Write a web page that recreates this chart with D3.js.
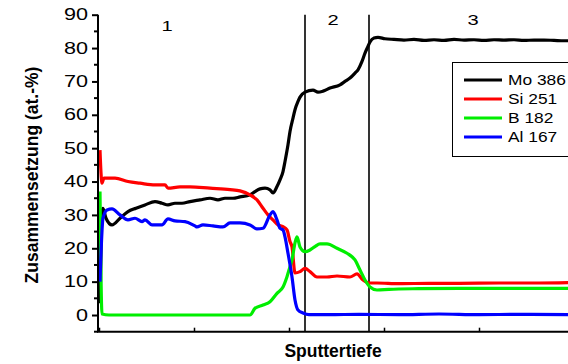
<!DOCTYPE html>
<html>
<head>
<meta charset="utf-8">
<script src="https://cdn.jsdelivr.net/npm/d3@7"></script>
<style>
  html, body { margin: 0; padding: 0; background: #fff; }
  svg { display: block; font-family: "Liberation Sans", Arial, sans-serif; }
</style>
</head>
<body>
<svg id="chart" width="568" height="364"></svg>
<script>
// Depth profile: [sputter depth (arb. units), composition at.-%]
const mo = [[1,3.5],[2,20],[3,31],[4,32],[7,29],[13,27],[21,29],[29,31],[37,32],[46,33],[56,34],[63,33.5],[69,33],[76,33.5],[83,33.5],[91,34],[101,34.5],[111,35],[119,34.5],[126,35],[134,35],[141,35.4],[151,36],[156,37],[161,37.8],[166,38],[171,37.5],[174,36.6],[178,38.5],[181,40.5],[184,43],[186,46],[189,51],[191,55],[194,59],[196,61.5],[199,64],[201,65.3],[206,66.8],[214,67.4],[219,66.8],[224,67.1],[231,68],[241,69],[246,70],[251,71],[256,72.5],[259,73.5],[263,76],[266,78.5],[269,80.5],[271,81.8],[275,83],[279,83.2],[286,82.8],[295,82.6],[305,82.4],[315,82.6],[325,82.3],[335,82.5],[345,82.3],[355,82.6],[365,82.4],[375,82.5],[385,82.3],[395,82.5],[405,82.4],[415,82.5],[425,82.3],[435,82.4],[445,82.4],[455,82.3],[465,82.2],[470,82.2]];
const si = [[1,49.4],[3,39.5],[5,41],[16,41],[29,40],[41,39.5],[56,39],[66,39],[69,38],[81,38.4],[91,38.4],[111,38],[131,37.6],[141,37.2],[151,36],[158,34.5],[164,32],[169,30],[174,28.5],[179,27],[184,26.5],[188,25.5],[191,22],[193,20.4],[196,12.6],[201,13],[206,14],[211,13],[218,11.4],[228,11.4],[238,11.7],[251,11.4],[258,12.3],[264,10.5],[271,9.6],[278,9.6],[300,9.4],[330,9.5],[360,9.5],[400,9.6],[440,9.6],[470,9.7]];
const b = [[1,37],[3,0.3],[10,0],[151,0],[156,2],[164,3],[171,4],[178,6.5],[184,8.4],[188,11.5],[191,14.5],[193,16.5],[196,21.6],[198,23.4],[201,20.4],[206,19],[211,19.5],[216,20.5],[221,21.3],[228,21.3],[238,20],[248,18.5],[256,16.5],[261,13.5],[266,10.5],[271,8.4],[278,7.5],[290,7.7],[320,7.9],[360,8],[400,8],[440,8],[470,8]];
const al = [[1,10],[4,29],[8,31.5],[13,31.8],[21,30],[29,28.5],[36,29],[43,28],[46,28.5],[53,27],[63,27],[69,28.8],[76,28.2],[86,28],[96,26.7],[98,26.4],[104,27],[114,26.7],[124,26.4],[131,27.6],[141,27.6],[151,27],[158,25.8],[164,26],[171,30],[174,31],[178,28.5],[181,26],[184,25.5],[186,23.4],[189,18.5],[193,11.4],[196,4.5],[199,1.5],[204,0.6],[210,0.1],[230,0.1],[260,0.2],[300,0.1],[340,0.3],[380,0.1],[420,0.2],[470,0.1]];

const seriesNames = ["Mo 386", "Si 251", "B 182", "Al 167"];
const seriesColors = ["#000000", "#ff0000", "#00ee00", "#0000ff"];
const seriesData = [mo, si, b, al];

const yTicks = [0, 10, 20, 30, 40, 50, 60, 70, 80, 90];
const yMinorTicks = [-5, 5, 15, 25, 35, 45, 55, 65, 75, 85];
const xTicks = [0, 95, 190, 285, 380, 475];

// Layer boundaries and layer labels
const boundaries = [206, 270];
const layerLabels = [{t: "1", x: 68, y: 31}, {t: "2", x: 234, y: 25}, {t: "3", x: 374, y: 25}];

const svg = d3.select("#chart");
const x = d3.scaleLinear().domain([0, 475]).range([99, 574]);
const y = d3.scaleLinear().domain([-5, 90]).range([331.7, 14.7]);

// layer boundaries
svg.append("g").selectAll("line").data(boundaries).join("line")
  .attr("x1", d => x(d)).attr("x2", d => x(d))
  .attr("y1", y(90)).attr("y2", y(-5))
  .attr("stroke", "#000").attr("stroke-width", 1.6);

svg.append("g").selectAll("text").data(layerLabels).join("text")
  .attr("transform", d => `translate(${x(d.x)},${d.y}) scale(1.3,1)`)
  .attr("text-anchor", "middle").attr("font-size", 15.5)
  .text(d => d.t);

// curves
const line = d3.line().x(d => x(d[0])).y(d => y(d[1])).curve(d3.curveMonotoneX);
svg.append("g").selectAll("path").data(seriesData).join("path")
  .attr("d", d => line(d))
  .attr("fill", "none")
  .attr("stroke", (d, i) => seriesColors[i])
  .attr("stroke-width", 3.2)
  .attr("stroke-linejoin", "round");

// y axis
const yAxis = svg.append("g").attr("transform", `translate(${x(0) - 1},0)`)
  .call(d3.axisLeft(y).tickValues(yTicks).tickSize(6).tickPadding(4));
yAxis.select(".domain").attr("stroke-width", 2).attr("d", `M0,${y(-5)}V${y(90)}`);
yAxis.selectAll(".tick line").attr("stroke-width", 2);
yAxis.selectAll(".tick text")
  .attr("x", 0)
  .attr("transform", "translate(-10,0) scale(1.35,1)")
  .attr("font-size", 16).attr("font-family", "Liberation Sans, Arial, sans-serif").attr("fill", "#000");
yAxis.append("g").selectAll("line").data(yMinorTicks).join("line")
  .attr("x1", -4).attr("x2", 0).attr("y1", d => y(d)).attr("y2", d => y(d))
  .attr("stroke", "#000").attr("stroke-width", 2);

// x axis
const xAxis = svg.append("g").attr("transform", `translate(0,${y(-5)})`)
  .call(d3.axisBottom(x).tickValues(xTicks).tickSize(-4).tickFormat(""));
xAxis.select(".domain").attr("stroke-width", 2).attr("d", `M${x(0) - 2},0H568`);
xAxis.selectAll(".tick line").attr("stroke-width", 1.5);

// axis titles
svg.append("text")
  .attr("transform", `translate(38,175) rotate(-90)`)
  .attr("text-anchor", "middle").attr("font-size", 17.5).attr("font-weight", "bold")
  .text("Zusammensetzung (at.-%)");
svg.append("text")
  .attr("x", 333).attr("y", 357)
  .attr("text-anchor", "middle").attr("font-size", 17.5).attr("font-weight", "bold")
  .text("Sputtertiefe");

// legend
const lg = svg.append("g");
lg.append("rect").attr("x", 452.5).attr("y", 62.5).attr("width", 130).attr("height", 94)
  .attr("fill", "#fff").attr("stroke", "#000").attr("stroke-width", 1);
const items = lg.selectAll("g.item").data(seriesNames).join("g").attr("class", "item")
  .attr("transform", (d, i) => `translate(0,${80 + i * 19})`);
items.append("line").attr("x1", 464).attr("x2", 502)
  .attr("stroke", (d, i) => seriesColors[i]).attr("stroke-width", 3);
items.append("text")
  .attr("transform", "translate(508,0) scale(1.12,1)")
  .attr("dy", "0.35em").attr("font-size", 15.5)
  .text(d => d);
</script>
</body>
</html>
